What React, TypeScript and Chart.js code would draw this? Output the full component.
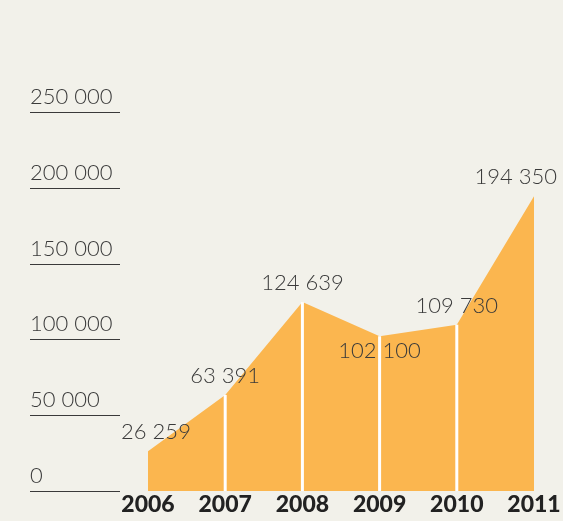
import React, { useEffect, useRef } from "react";
import { Chart, registerables } from "chart.js";

Chart.register(...registerables);

const years = ["2006", "2007", "2008", "2009", "2010", "2011"];
const values = [26259, 63391, 124639, 102100, 109730, 194350];
const valueLabels = ["26 259", "63 391", "124 639", "102 100", "109 730", "194 350"];
const yTicks = [0, 50000, 100000, 150000, 200000, 250000];
const yTickLabels = ["0", "50 000", "100 000", "150 000", "200 000", "250 000"];

const BG = "#f2f1ea";
const ORANGE = "#fbb64f";
const TEXT = "#3a3a3a";

const decorPlugin = {
  id: "decor",
  afterDatasetsDraw(chart: any) {
    const { ctx } = chart;
    const xs = chart.scales.x;
    const ys = chart.scales.y;
    const w = chart.width;
    ctx.save();
    // white dividers
    ctx.strokeStyle = "#ffffff";
    ctx.lineWidth = 3;
    for (let i = 1; i < values.length - 1; i++) {
      const x = xs.getPixelForValue(i);
      ctx.beginPath();
      ctx.moveTo(x, ys.getPixelForValue(values[i]));
      ctx.lineTo(x, ys.getPixelForValue(0));
      ctx.stroke();
    }
    // y tick lines and labels
    ctx.font = "300 22px Lato";
    ctx.fillStyle = TEXT;
    ctx.textAlign = "left";
    ctx.textBaseline = "alphabetic";
    yTicks.forEach((t, i) => {
      const y = Math.round(ys.getPixelForValue(t)) + 0.5;
      ctx.strokeStyle = "#3a3a3a";
      ctx.lineWidth = 1.2;
      ctx.beginPath();
      ctx.moveTo(30, y);
      ctx.lineTo(120, y);
      ctx.stroke();
      ctx.fillText(yTickLabels[i], 30, y - 9);
    });
    // x labels
    ctx.font = "900 23px Lato";
    ctx.fillStyle = "#222";
    ctx.textAlign = "center";
    ctx.textBaseline = "alphabetic";
    years.forEach((yr, i) => {
      ctx.fillText(yr, xs.getPixelForValue(i), ys.getPixelForValue(0) + 21);
    });
    // value labels
    ctx.font = "300 22px Lato";
    ctx.fillStyle = TEXT;
    values.forEach((v, i) => {
      const x = xs.getPixelForValue(i);
      const y = ys.getPixelForValue(v);
      const prev = i > 0 ? values[i - 1] : -Infinity;
      const next = i < values.length - 1 ? values[i + 1] : -Infinity;
      const isDip = i > 0 && i < values.length - 1 && v < prev && v < next;
      const tw = ctx.measureText(valueLabels[i]).width;
      let cx = x;
      if (i === 0) cx = x + 8;
      if (cx + tw / 2 > w - 6) cx = w - 6 - tw / 2;
      const by = isDip ? y + 22 : y - 12;
      ctx.fillText(valueLabels[i], cx, by);
    });
    ctx.restore();
  },
};

export default function App() {
  const ref = useRef<HTMLCanvasElement>(null);
  useEffect(() => {
    if (!ref.current) return;
    const chart = new Chart(ref.current, {
      type: "line",
      data: {
        labels: years,
        datasets: [
          {
            data: values,
            fill: "origin",
            backgroundColor: ORANGE,
            borderWidth: 0,
            borderColor: ORANGE,
            pointRadius: 0,
            tension: 0,
          },
        ],
      },
      options: {
        animation: false,
        responsive: false,
        layout: { padding: { left: 148, right: 29, top: 112, bottom: 30 } },
        plugins: { legend: { display: false }, tooltip: { enabled: false } },
        scales: {
          x: { type: "category", offset: false, display: false },
          y: { min: 0, max: 250000, display: false },
        },
      },
      plugins: [decorPlugin],
    });
    return () => chart.destroy();
  }, []);
  return (
    <div style={{ position: "fixed", left: 0, top: 0, width: 563, height: 521, background: BG }}>
      <canvas ref={ref} width={563} height={521} style={{ display: "block" }} />
    </div>
  );
}
